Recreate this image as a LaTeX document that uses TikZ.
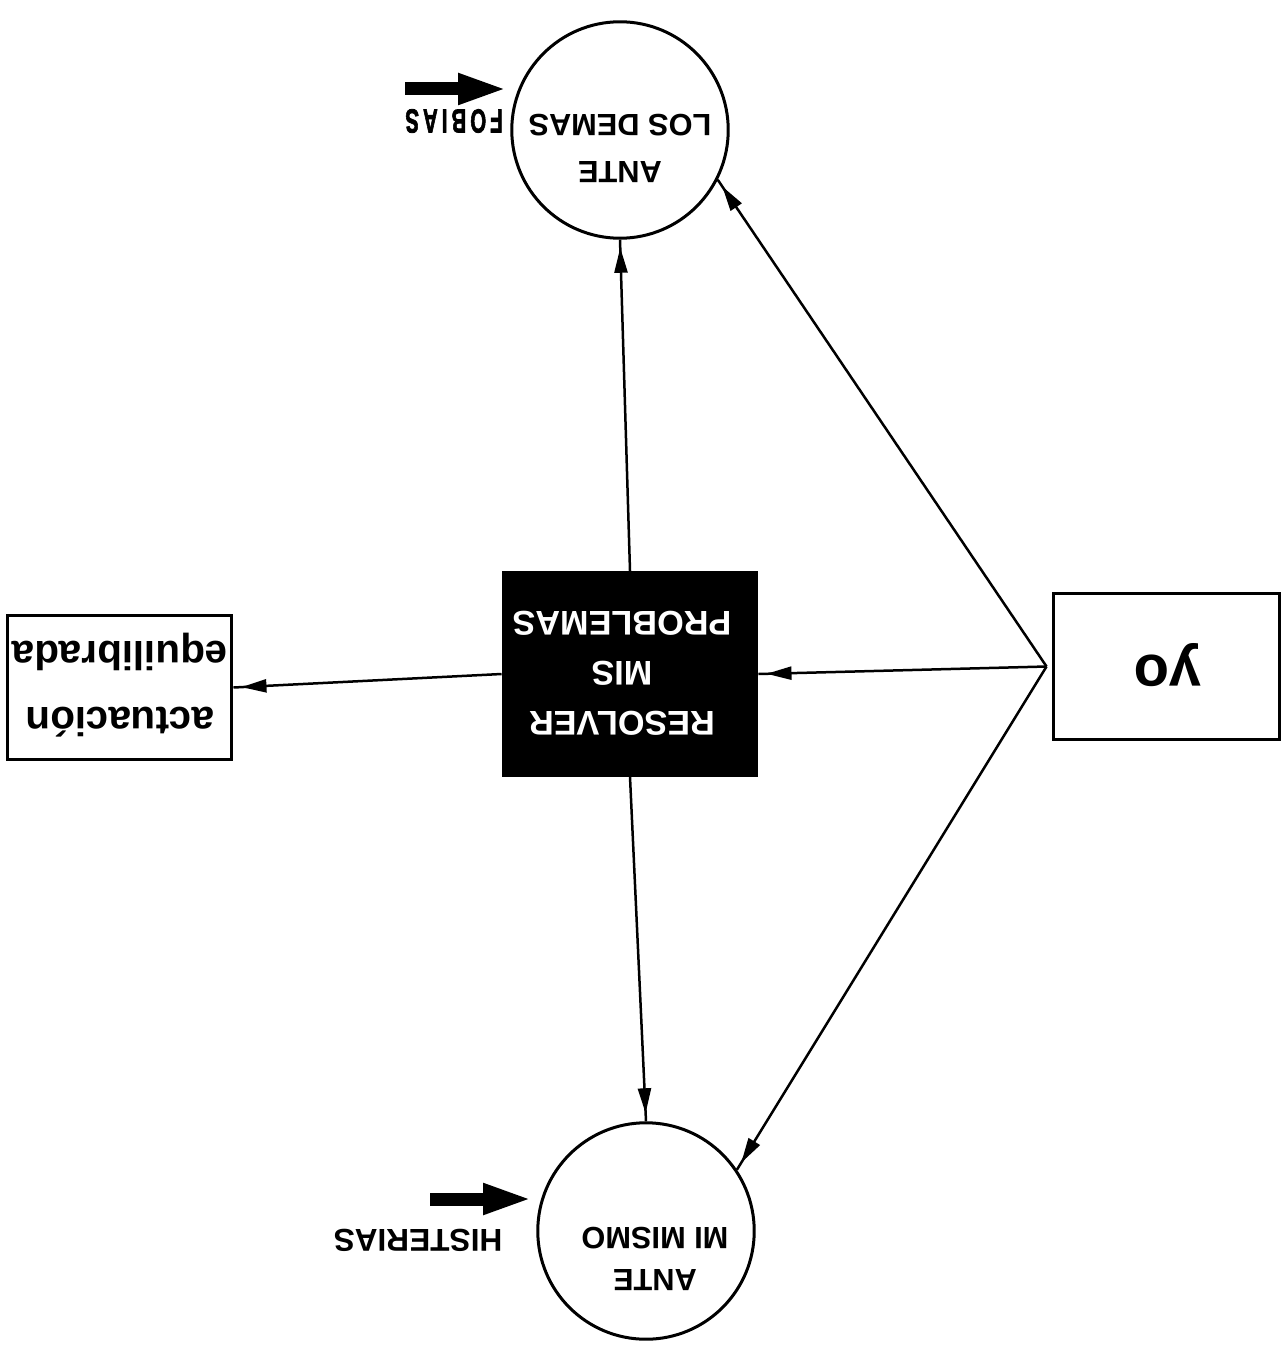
\documentclass[tikz,border=0pt]{standalone}
\usepackage{fontspec}
\setmainfont{Liberation Sans}
\usetikzlibrary{arrows.meta,decorations.markings}
\begin{document}
\begin{tikzpicture}[x=0.02cm,y=-0.02cm,
  circ/.style={draw, circle, line width=0.06cm, minimum size=4.33cm, inner sep=0},
  boxw/.style={draw, rectangle, line width=0.06cm, inner sep=0},
  txt/.style={rotate=180, align=center, inner sep=0, text=black},
  conn/.style={line width=0.05cm, postaction={decorate},
    decoration={markings, mark=at position -0.16cm with {\arrow{Triangle[length=0.5cm,width=0.26cm]}}}},
  fat/.style={line width=0.26cm, -{Triangle[length=1cm,width=0.56cm]}}
]
\useasboundingbox[fill=white] (0,0) rectangle (1287,1348);

% shapes
\node[circ] (dem) at (620,130) {};
\node[circ] (mis) at (646,1231) {};
\node[boxw, fill=black, minimum width=5.08cm, minimum height=4.06cm] (res) at (630,674) {};
\node[boxw, minimum width=4.5cm, minimum height=2.9cm] (act) at (119.5,687.5) {};
\node[boxw, minimum width=4.54cm, minimum height=2.94cm] (yo) at (1166.5,666.5) {};

% texts
\node[txt, font=\fontsize{17.5}{26.7}\selectfont\bfseries] (demtxt) at (620,148) {ANTE\\LOS DEMAS};
\node[txt, font=\fontsize{17.5}{23.9}\selectfont\bfseries] (mistxt) at (655,1259) {ANTE\\MI MISMO};
\node[txt, text=white, font=\fontsize{19.5}{28.5}\selectfont\bfseries] (restxt) at (622,673) {RESOLVER\\MIS\\PROBLEMAS};
\node[txt, font=\fontsize{23}{37.6}\selectfont\bfseries] (acttxt) at (120,685) {actuación\\equilibrada};
\node[txt, font=\fontsize{33}{38}\selectfont\bfseries] (yotxt) at (1168,665) {yo};
\node[txt, font=\fontsize{19}{22}\selectfont\bfseries] (fobtxt) at (454,121) {\scalebox{0.61}[1]{\addfontfeature{LetterSpace=20,FakeBold=2.5}FOBIAS}};
\node[txt, font=\fontsize{18}{22}\selectfont\bfseries] (histxt) at (418,1240) {HISTERIAS};

% junction near yo
\coordinate (yj) at ([xshift=-0.1cm]yo.west);

% thin connectors
\draw[conn] (res.north) -- (dem.south);
\draw[conn] (res.south) -- (mis.north);
\draw[conn] (res.west) -- (act.east);
\draw[conn] (yj) -- (res.east);
\draw[conn] (yj) -- (dem.-27);
\draw[conn] (yj) -- (mis.34);

% fat arrows
\coordinate (f1) at (405,89);
\coordinate (f2) at (508,89);
\draw[fat] (f1) -- (f2);
\coordinate (h1) at (430,1199);
\coordinate (h2) at (533,1199);
\draw[fat] (h1) -- (h2);
\end{tikzpicture}
\end{document}
